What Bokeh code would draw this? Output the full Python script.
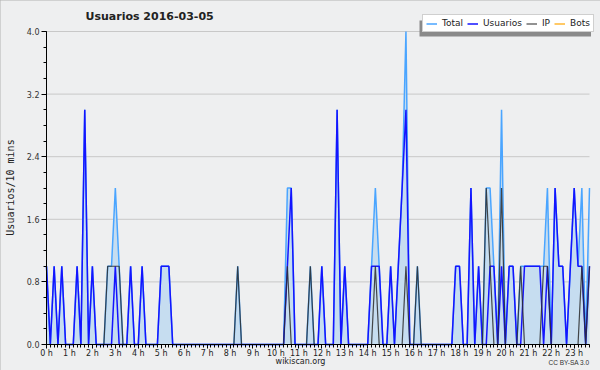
import math
from bokeh.plotting import figure
from bokeh.models import (Range1d, FixedTicker, PrintfTickFormatter, Legend, LegendItem,
                          Label, BoxAnnotation, ColumnDataSource)
from bokeh.embed import file_html
from bokeh.resources import INLINE

# ---------------- data (10-minute slots, 2016-03-05) ----------------
title_text = "Usuarios  2016-03-05"
y_label = "Usuarios/10 mins"
hour_labels = ["%d h" % h for h in range(24)]
hour_ticks = [60 * h for h in range(24)]
slot_minutes = [10 * i for i in range(143)]

usuarios = [
    1, 0, 1, 0, 1, 0,   # 0 h
    0, 0, 1, 0, 3, 0,   # 1 h
    1, 0, 0, 0, 0, 0,   # 2 h
    1, 0, 0, 0, 1, 0,   # 3 h
    0, 1, 0, 0, 0, 0,   # 4 h
    1, 1, 1, 0, 0, 0,   # 5 h
    0, 0, 0, 0, 0, 0,   # 6 h
    0, 0, 0, 0, 0, 0,   # 7 h
    0, 0, 0, 0, 0, 0,   # 8 h
    0, 0, 0, 0, 0, 0,   # 9 h
    0, 0, 0, 1, 2, 0,   # 10 h
    0, 0, 0, 0, 0, 0,   # 11 h
    1, 0, 0, 0, 3, 0,   # 12 h
    1, 0, 0, 0, 0, 0,   # 13 h
    0, 1, 1, 1, 0, 0,   # 14 h
    1, 0, 1, 2, 3, 0,   # 15 h
    0, 0, 0, 0, 0, 0,   # 16 h
    0, 0, 0, 0, 0, 1,   # 17 h
    1, 0, 0, 2, 0, 1,   # 18 h
    0, 0, 1, 1, 0, 1,   # 19 h
    0, 1, 1, 0, 0, 1,   # 20 h
    1, 1, 1, 1, 0, 1,   # 21 h
    0, 2, 1, 1, 0, 1,   # 22 h
    2, 1, 1, 0, 1,      # 23 h
]

ip = [
    0, 0, 0, 0, 0, 0,
    0, 0, 0, 0, 0, 0,
    0, 0, 0, 0, 1, 1,
    1, 1, 0, 0, 0, 0,
    0, 0, 0, 0, 0, 0,
    0, 0, 0, 0, 0, 0,
    0, 0, 0, 0, 0, 0,
    0, 0, 0, 0, 0, 0,
    0, 0, 1, 0, 0, 0,
    0, 0, 0, 0, 0, 0,
    0, 0, 0, 1, 0, 0,
    0, 0, 0, 1, 0, 0,
    0, 0, 0, 0, 0, 0,
    0, 0, 0, 0, 0, 0,
    0, 0, 1, 0, 0, 0,
    0, 0, 0, 0, 1, 0,
    0, 1, 0, 0, 0, 0,
    0, 0, 0, 0, 0, 0,
    0, 0, 0, 0, 0, 0,
    0, 2, 1, 0, 0, 2,
    0, 0, 0, 0, 1, 0,
    0, 0, 0, 0, 1, 1,
    0, 0, 0, 0, 0, 0,
    0, 0, 1, 0, 1,
]

bots = [
    0, 0, 0, 0, 0, 0,
    0, 0, 0, 0, 0, 0,
    0, 0, 0, 0, 0, 0,
    0, 0, 0, 0, 0, 0,
    0, 0, 0, 0, 0, 0,
    0, 0, 0, 0, 0, 0,
    0, 0, 0, 0, 0, 0,
    0, 0, 0, 0, 0, 0,
    0, 0, 0, 0, 0, 0,
    0, 0, 0, 0, 0, 0,
    0, 0, 0, 0, 0, 0,
    0, 0, 0, 0, 0, 0,
    0, 0, 0, 0, 0, 0,
    0, 0, 0, 0, 0, 0,
    0, 0, 0, 0, 0, 0,
    0, 0, 0, 0, 0, 0,
    0, 0, 0, 0, 0, 0,
    0, 0, 0, 0, 0, 0,
    0, 0, 0, 0, 0, 0,
    0, 0, 0, 0, 0, 0,
    0, 0, 0, 0, 0, 0,
    0, 0, 0, 0, 0, 0,
    0, 0, 0, 0, 0, 0,
    0, 0, 0, 0, 0,
]

total = [
    1, 0, 1, 0, 1, 0,
    0, 0, 1, 0, 3, 0,
    1, 0, 0, 0, 1, 1,
    2, 1, 0, 0, 1, 0,
    0, 1, 0, 0, 0, 0,
    1, 1, 1, 0, 0, 0,
    0, 0, 0, 0, 0, 0,
    0, 0, 0, 0, 0, 0,
    0, 0, 1, 0, 0, 0,
    0, 0, 0, 0, 0, 0,
    0, 0, 0, 2, 2, 0,
    0, 0, 0, 1, 0, 0,
    1, 0, 0, 0, 3, 0,
    1, 0, 0, 0, 0, 0,
    0, 1, 2, 1, 0, 0,
    1, 0, 1, 2, 4, 0,
    0, 1, 0, 0, 0, 0,
    0, 0, 0, 0, 0, 1,
    1, 0, 0, 2, 0, 1,
    0, 2, 2, 1, 0, 3,
    0, 1, 1, 0, 1, 1,
    1, 1, 1, 1, 1, 2,
    0, 2, 1, 1, 0, 1,
    2, 1, 2, 0, 2,
]

y_ticks = [0.0, 0.8, 1.6, 2.4, 3.2, 4.0]
y_minor = [0.0, 0.2, 0.4, 0.6, 0.8, 1.0, 1.2, 1.4, 1.6, 1.8, 2.0,
           2.2, 2.4, 2.6, 2.8, 3.0, 3.2, 3.4, 3.6, 3.8, 4.0]

# ---------------- styling / layout ----------------
BG = "#eeeff0"
FILL = "#c6ddf0"
C_TOTAL = "#4aa5ff"
C_USERS = "#1414ff"
C_IP = "#2a2a2a"
C_BOTS = "#ffa500"
C_GRID = "#c8c8c8"
FONT = "DejaVu Sans"

W, H = 600, 370
# the frame covers the whole canvas; axes are drawn at fixed locations inside it
X0_PX, XL_PX = 46, 589     # canvas x of the first / last 10-minute slot
Y0_PX, Y4_PX = 344, 31     # canvas y of 0.0 and 4.0
x_last = slot_minutes[-1]
kx = (XL_PX - X0_PX) / x_last
ky = (Y0_PX - Y4_PX) / 4.0
x_start, x_end = -X0_PX / kx, x_last + (W - XL_PX) / kx
y_start, y_end = -(H - Y0_PX) / ky, 4.0 + Y4_PX / ky

src = ColumnDataSource(dict(t=slot_minutes, total=total, usuarios=usuarios, ip=ip, bots=bots))
grid_src = ColumnDataSource(dict(y=y_ticks, x0=[0] * len(y_ticks), x1=[x_last] * len(y_ticks)))

p = figure(width=W, height=H, output_backend="svg", toolbar_location=None,
           x_range=Range1d(x_start, x_end), y_range=Range1d(y_start, y_end),
           min_border_left=0, min_border_right=0, min_border_top=0, min_border_bottom=0,
           background_fill_color=BG, border_fill_color=BG, outline_line_color=None)
p.title.visible = False
p.styles = {"outline": "2px solid #b2b2b2", "outline-offset": "-2px"}
p.xgrid.visible = False
p.ygrid.visible = False

# x axis
xa = p.xaxis[0]
xa.fixed_location = 0
xa.bounds = (0, x_last)
xa.ticker = FixedTicker(ticks=hour_ticks, minor_ticks=slot_minutes)
xa.major_label_overrides = {t: lab for t, lab in zip(hour_ticks, hour_labels)}
xa.major_tick_in = 0
xa.major_tick_out = 4
xa.minor_tick_in = 0
xa.minor_tick_out = 3
xa.major_label_standoff = 0
xa.major_label_text_font = FONT
xa.major_label_text_font_size = "8px"
xa.major_label_text_color = "#222222"
xa.axis_line_color = "black"
xa.major_tick_line_color = "black"
xa.minor_tick_line_color = "black"

# y axis
ya = p.yaxis[0]
ya.fixed_location = 0
ya.bounds = (0, 4)
ya.ticker = FixedTicker(ticks=y_ticks, minor_ticks=y_minor)
ya.formatter = PrintfTickFormatter(format="%.1f")
ya.major_tick_in = 0
ya.major_tick_out = 5
ya.minor_tick_in = 0
ya.minor_tick_out = 3
ya.major_label_standoff = 2
ya.major_label_text_font = FONT
ya.major_label_text_font_size = "8px"
ya.major_label_text_color = "#333333"
ya.axis_line_color = "black"

# horizontal grid lines at the y ticks, over the data span
p.segment(x0="x0", y0="y", x1="x1", y1="y", source=grid_src, line_color=C_GRID, line_width=1)

# data
p.varea(x="t", y1=0, y2="total", source=src, fill_color=FILL, fill_alpha=1)
r_bots = p.line("t", "bots", source=src, line_color=C_BOTS, line_width=1.2)
r_total = p.line("t", "total", source=src, line_color=C_TOTAL, line_width=1.5)
r_users = p.line("t", "usuarios", source=src, line_color=C_USERS, line_width=1.5)
r_ip = p.line("t", "ip", source=src, line_color=C_IP, line_width=1.2, line_alpha=0.85)

# legend shadow + legend (screen units = canvas px from bottom-left)
LEG_X, LEG_Y, LEG_W, LEG_H = 422, H - 32, 171.5, 15
shadow = BoxAnnotation(left=LEG_X - 3, right=LEG_X + LEG_W - 3,
                       top=LEG_Y + LEG_H - 3, bottom=LEG_Y - 4,
                       left_units="screen", right_units="screen",
                       top_units="screen", bottom_units="screen",
                       fill_color="#8a8a8a", fill_alpha=1, line_color=None)
p.add_layout(shadow)

legend = Legend(items=[LegendItem(label="Total", renderers=[r_total]),
                       LegendItem(label="Usuarios", renderers=[r_users]),
                       LegendItem(label="IP", renderers=[r_ip]),
                       LegendItem(label="Bots", renderers=[r_bots])],
                orientation="horizontal", location=(LEG_X, LEG_Y), margin=0,
                padding=3, spacing=4, label_standoff=5,
                glyph_width=11, glyph_height=9, label_height=9, label_width=0,
                label_text_font=FONT, label_text_font_size="9px",
                label_text_color="#222222", label_text_baseline="middle",
                border_line_color="#a0a0a0", border_line_width=1,
                background_fill_color="white", background_fill_alpha=1)
p.add_layout(legend)

# texts
p.add_layout(Label(x=151, y=H - 16, x_units="screen", y_units="screen", text=title_text,
                   text_font=FONT, text_font_size="11px", text_font_style="bold",
                   text_align="center", text_baseline="middle", text_color="#222222"))
p.add_layout(Label(x=10, y=H - 187, x_units="screen", y_units="screen", text=y_label,
                   angle=math.pi / 2, text_font="DejaVu Sans Mono", text_font_size="10px",
                   text_align="center", text_baseline="middle", text_color="#222222"))
p.add_layout(Label(x=300, y=H - 361, x_units="screen", y_units="screen",
                   text="wikiscan.org", text_font=FONT, text_font_size="8px",
                   text_align="center", text_baseline="middle", text_color="#222222"))
p.add_layout(Label(x=589, y=H - 362, x_units="screen", y_units="screen",
                   text="CC BY-SA 3.0", text_font="Liberation Sans", text_font_size="6.5px",
                   text_align="right", text_baseline="middle", text_color="#333333"))

open("out.html", "w").write(file_html(p, INLINE))
